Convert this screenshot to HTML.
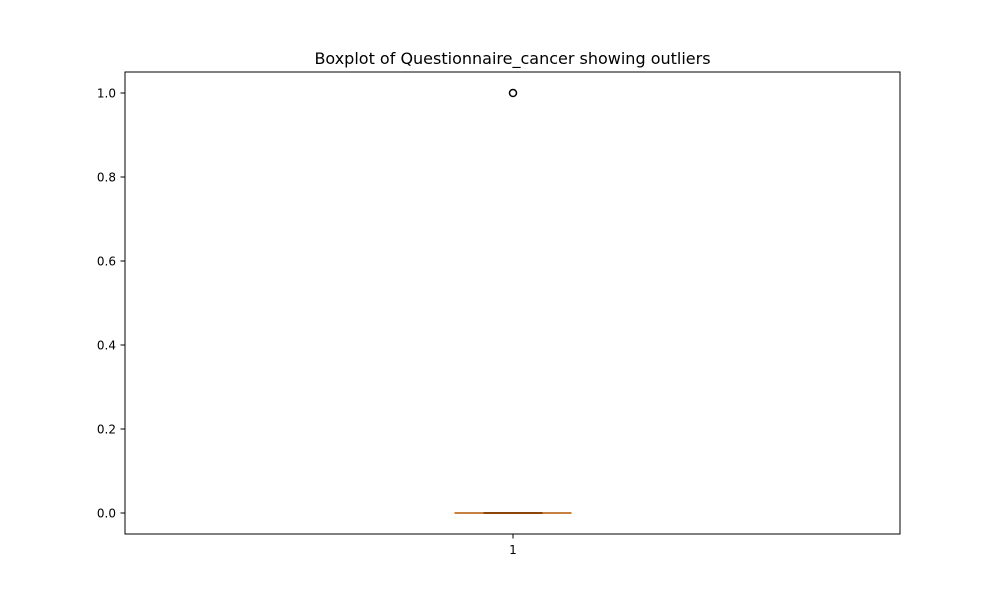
<!DOCTYPE html>
<html><head><meta charset="utf-8"><style>
body{margin:0;background:#fff;font-family:"DejaVu Sans","Liberation Sans",sans-serif}
</style></head><body>
<svg width="1000" height="600" xmlns="http://www.w3.org/2000/svg">
<rect width="1000" height="600" fill="#fff"/>
<text x="512.5" y="64" text-anchor="middle" font-size="16">Boxplot of Questionnaire_cancer showing outliers</text>
<g id="plot"></g>
<rect x="125" y="72" width="775" height="462" fill="none" stroke="#000" stroke-width="1"/>
</svg>
<script>
const yTicks=[0.0,0.2,0.4,0.6,0.8,1.0];
const tickLabels=["0.0","0.2","0.4","0.6","0.8","1.0"];
const categories=["1"];
const q1=[0],q3=[0],median=[0],whiskLo=[0],whiskHi=[0];
const outliers=[[1.0]];
const y=v=>513-v*420;
const x=i=>513+i*100;
const g=document.getElementById('plot');
const NS="http://www.w3.org/2000/svg";
function mk(t,a){const e=document.createElementNS(NS,t);for(const k in a)e.setAttribute(k,a[k]);g.appendChild(e);return e;}
yTicks.forEach((v,i)=>{
 const l=mk('line',{x1:120.5,x2:125,y1:y(v),y2:y(v),stroke:'#000'});
 
 
 const t=mk('text',{x:116,y:y(v)+4.5,'text-anchor':'end','font-size':12});
 t.textContent=tickLabels[i];
 
 
});
categories.forEach((c,i)=>{
 const cx=x(i);
 const tk=mk('line',{x1:cx,x2:cx,y1:534,y2:538.5,stroke:'#000'});
 
 
 const t=mk('text',{x:cx,y:554,'text-anchor':'middle','font-size':12});
 t.textContent=c;
 
 
 const box=mk('rect',{x:cx-29,y:y(q3[i])-0.5,width:58,height:Math.max(1,y(q1[i])-y(q3[i])),fill:'none',stroke:'#000'});
 
 
 const w1=mk('line',{x1:cx,x2:cx,y1:y(q3[i]),y2:y(whiskHi[i]),stroke:'#000'});
 
 
 const w2=mk('line',{x1:cx,x2:cx,y1:y(q1[i]),y2:y(whiskLo[i]),stroke:'#000'});
 
 
 const c1=mk('line',{x1:cx-58,x2:cx+58,y1:y(whiskHi[i]),y2:y(whiskHi[i]),stroke:'#000'});
 
 
 const c2=mk('line',{x1:cx-58,x2:cx+58,y1:y(whiskLo[i]),y2:y(whiskLo[i]),stroke:'#000'});
 
 
 const m=mk('line',{x1:cx-59,x2:cx+59,y1:y(median[i]),y2:y(median[i]),stroke:'#ff7f0e','stroke-width':2,'stroke-opacity':0.55});
 
 
 outliers[i].forEach(o=>{
  const p=mk('circle',{cx:cx,cy:y(o),r:3.5,fill:'none',stroke:'#000','stroke-width':1.5});
  
  
 });
});
</script>
</body></html>
